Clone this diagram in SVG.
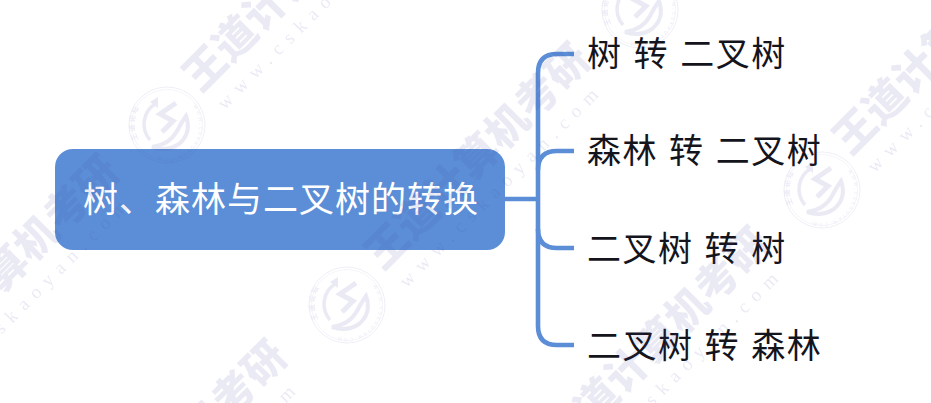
<svg xmlns="http://www.w3.org/2000/svg" width="931" height="403" viewBox="0 0 931 403">
<style>
text{font-family:"Noto Sans CJK SC","Liberation Sans",sans-serif}
.l{font-size:34px;fill:#14141c;letter-spacing:1.500px;word-spacing:2px}
.r{font-size:35px;fill:#fff;letter-spacing:1px}
.c{fill:none;stroke:#5b8ed6;stroke-width:4.600}
.wt{font-size:42px;font-weight:900;letter-spacing:.4px}
.wu{font-family:"Liberation Serif",serif;font-size:19px}
.ws{font-size:7px;font-weight:700}
.wm{fill:#5050aa;stroke:none}
.wl{fill:none;stroke:#5050aa}
</style>
<defs>
<path id="arcA" d="M-28 16A32 32 0 0 1 20 -25"/>
<path id="arcB" d="M26 -19A32.500 32.500 0 0 1 -20 26"/>
<g id="logo">
<circle class="wl" r="38" stroke-width=".8"/>
<circle class="wl" r="35.500" stroke-width=".5"/>
<path class="wl" stroke-width="3.500" d="M-12 -21A24 24 0 0 0 -17 15"/>
<path class="wl" stroke-width="4" d="M-15 22Q2 20 10 6Q14 -2 19 -9Q25 8 12 19Q0 27 -15 22Z"/>
<path class="wl" stroke-width="5" d="M9 -22L-7 -11L6 -4L-5 7"/>
<path class="wm" d="M-17 -23L-9 -28L-9 -17Z"/>
<text class="wm ws"><textPath href="#arcA" startOffset="2">王 道 论 坛</textPath></text>
<text class="wm" style="font-size:5px"><textPath href="#arcB" textLength="80">WWW.CSKAOYAN.COM</textPath></text>
</g>
<g id="line">
<text class="wm wt" x="-21" y="15" transform="rotate(-45)">王道计算机考研</text>
<text class="wm wu" x="-16" y="44" textLength="272" lengthAdjust="spacing" transform="rotate(-45)">www.cskaoyan.com</text>
</g>
</defs>
<rect width="931" height="403" fill="#fff"/>
<g id="connectors">
<path class="c" d="M505 199H538"/>
<path class="c" d="M574 54H557Q538 54 538 73V326Q538 345 557 345H574"/>
<path class="c" d="M538 170Q538 151 557 151H574"/>
<path class="c" d="M538 229Q538 248 557 248H574"/>
</g>
<g id="root"><rect x="55" y="149" width="450" height="101" rx="18" fill="#5b8ed6"/>
<text class="r" x="83" y="212">树、森林与二叉树的转换</text></g>
<g id="n1"><text class="l" x="587" y="66">树 转 二叉树</text></g>
<g id="n2"><text class="l" x="587" y="163">森林 转 二叉树</text></g>
<g id="n3"><text class="l" x="587" y="261">二叉树 转 树</text></g>
<g id="n4"><text class="l" x="587" y="358">二叉树 转 森林</text></g>
<g id="watermark" opacity=".12">
<use href="#line" x="205" y="68"/>
<use href="#line" x="387" y="246"/>
<use href="#line" x="855" y="131"/>
<use href="#line" x="567" y="430"/>
<use href="#line" x="-84" y="358"/>
<use href="#line" x="84" y="543"/>
<use href="#logo" x="167" y="125"/>
<use href="#logo" x="347" y="305"/>
<use href="#logo" x="640" y="10"/>
<use href="#logo" x="822" y="190"/>
</g>
</svg>
